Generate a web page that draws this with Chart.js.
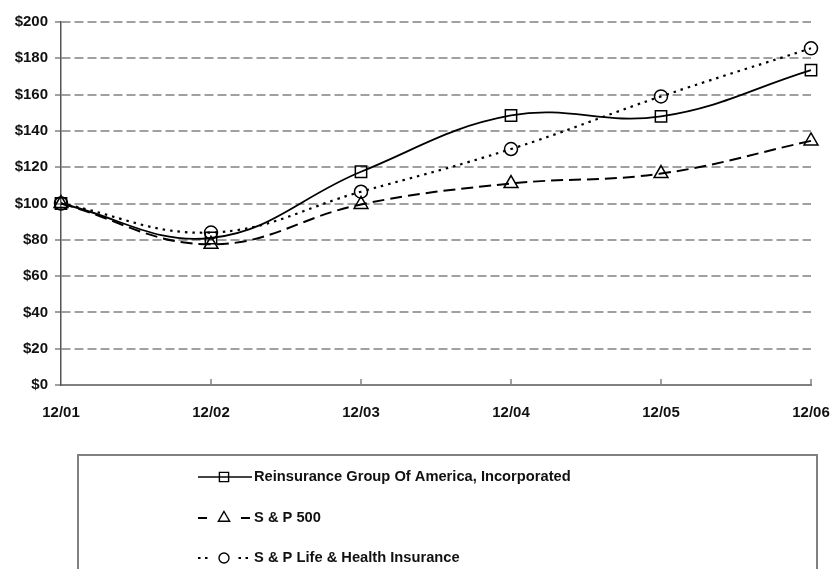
<!DOCTYPE html>
<html>
<head>
<meta charset="utf-8">
<script src="https://cdn.jsdelivr.net/npm/chart.js@4.4.1/dist/chart.umd.min.js"></script>
<style>
  html, body { margin: 0; padding: 0; background: #fff; }
  #wrap { position: relative; width: 833px; height: 569px; }
</style>
</head>
<body>
<div id="wrap"><canvas id="c" width="833" height="569"></canvas></div>
<script>
// ---- data ----
const categories = ['12/01', '12/02', '12/03', '12/04', '12/05', '12/06'];
const seriesNames = [
  'Reinsurance Group Of America, Incorporated',
  'S & P 500',
  'S & P Life & Health Insurance'
];
const rgaValues = [100, 81, 117.5, 148.5, 148, 173.5];
const sp500Values = [100, 77.5, 99.5, 111, 116.5, 134.5];
const lifeHealthValues = [100, 84, 106.5, 130, 159, 185.5];
const yMin = 0;
const yMax = 200;
const yStep = 20;

// ---- styles ----
const FONT = "'Liberation Sans', Arial, sans-serif";
const TEXT = '#111';

const legendPlugin = {
  id: 'boxLegend',
  afterDraw(chart) {
    const ctx = chart.ctx;
    ctx.save();
    // box
    ctx.strokeStyle = '#808080';
    ctx.lineWidth = 2;
    ctx.beginPath();
    ctx.moveTo(78, 600);
    ctx.lineTo(78, 455);
    ctx.lineTo(817, 455);
    ctx.lineTo(817, 600);
    ctx.stroke();

    const rows = [477, 518, 558];
    const sampleDash = [[], [9, 34], [2.5, 4.5, 2.5, 31]];
    const x0 = 198, x1 = 252, mx = 224;
    chart.data.datasets.forEach((ds, i) => {
      const y = rows[i];
      ctx.save();
      ctx.strokeStyle = i === 0 ? '#444' : '#000';
      ctx.lineWidth = 2;
      ctx.setLineDash(sampleDash[i]);
      ctx.beginPath();
      ctx.moveTo(x0, y);
      ctx.lineTo(x1, y);
      ctx.stroke();
      ctx.restore();
      ctx.save();
      ctx.strokeStyle = '#000';
      ctx.fillStyle = 'rgba(255,255,255,0)';
      ctx.lineWidth = 1.4;
      Chart.helpers.drawPoint(ctx, {
        pointStyle: ds.pointStyle,
        radius: ds.pointRadius - 1.5,
        rotation: 0,
        borderWidth: 1.4
      }, mx, y);
      ctx.restore();
      ctx.fillStyle = TEXT;
      ctx.font = 'bold 14.7px ' + FONT;
      ctx.textBaseline = 'middle';
      ctx.textAlign = 'left';
      ctx.fillText(ds.label, x1 + 2, y);
    });
    ctx.restore();
  }
};

const xTickPlugin = {
  id: 'innerTicks',
  afterDatasetsDraw(chart) {
    const ctx = chart.ctx;
    const xs = chart.scales.x;
    const bottom = chart.chartArea.bottom;
    ctx.save();
    ctx.strokeStyle = '#808080';
    ctx.lineWidth = 1.5;
    for (let i = 1; i < categories.length; i++) {
      const px = xs.getPixelForTick(i);
      ctx.beginPath();
      ctx.moveTo(px, bottom);
      ctx.lineTo(px, bottom - 6);
      ctx.stroke();
    }
    ctx.restore();
  }
};

const common = {
  borderColor: '#000',
  pointBorderColor: '#000',
  pointBackgroundColor: 'rgba(255,255,255,0)',
  pointBorderWidth: 1.5,
  fill: false,
  tension: 0.4,
  clip: false
};

new Chart(document.getElementById('c'), {
  type: 'line',
  data: {
    labels: categories,
    datasets: [
      Object.assign({}, common, {
        label: seriesNames[0], data: rgaValues,
        borderWidth: 1.8, borderDash: [],
        pointStyle: 'rect', pointRadius: 8
      }),
      Object.assign({}, common, {
        label: seriesNames[1], data: sp500Values,
        borderWidth: 2, borderDash: [12, 6],
        pointStyle: 'triangle', pointRadius: 8
      }),
      Object.assign({}, common, {
        label: seriesNames[2], data: lifeHealthValues,
        borderWidth: 2.2, borderDash: [2.5, 5],
        pointStyle: 'circle', pointRadius: 6.5
      })
    ]
  },
  options: {
    responsive: false,
    animation: false,
    events: [],
    layout: { padding: { left: 0, right: 22, top: 22, bottom: 144 } },
    plugins: { legend: { display: false }, tooltip: { enabled: false }, title: { display: false } },
    scales: {
      x: {
        type: 'category',
        offset: false,
        grid: { display: true, drawOnChartArea: false, drawTicks: false },
        border: { display: true, color: '#808080', width: 2 },
        ticks: {
          autoSkip: false, maxRotation: 0, padding: 19,
          color: TEXT, font: { family: FONT, size: 15, weight: 'bold' }
        },
        afterFit(s) { s.height = 40; s.paddingRight = 10; s.paddingLeft = 0; }
      },
      y: {
        min: yMin, max: yMax,
        grid: {
          color: '#a0a0a0', lineWidth: 2, tickLength: 6,
          tickColor: '#a0a0a0', tickWidth: 2
        },
        border: { display: true, color: '#555', width: 1.5, dash: [9, 4] },
        ticks: {
          stepSize: yStep, padding: 7,
          color: TEXT, font: { family: FONT, size: 15, weight: 'bold' },
          callback: v => '$' + v
        },
        afterFit(s) { s.width = 61; }
      }
    }
  },
  plugins: [xTickPlugin, legendPlugin]
});
</script>
</body>
</html>
